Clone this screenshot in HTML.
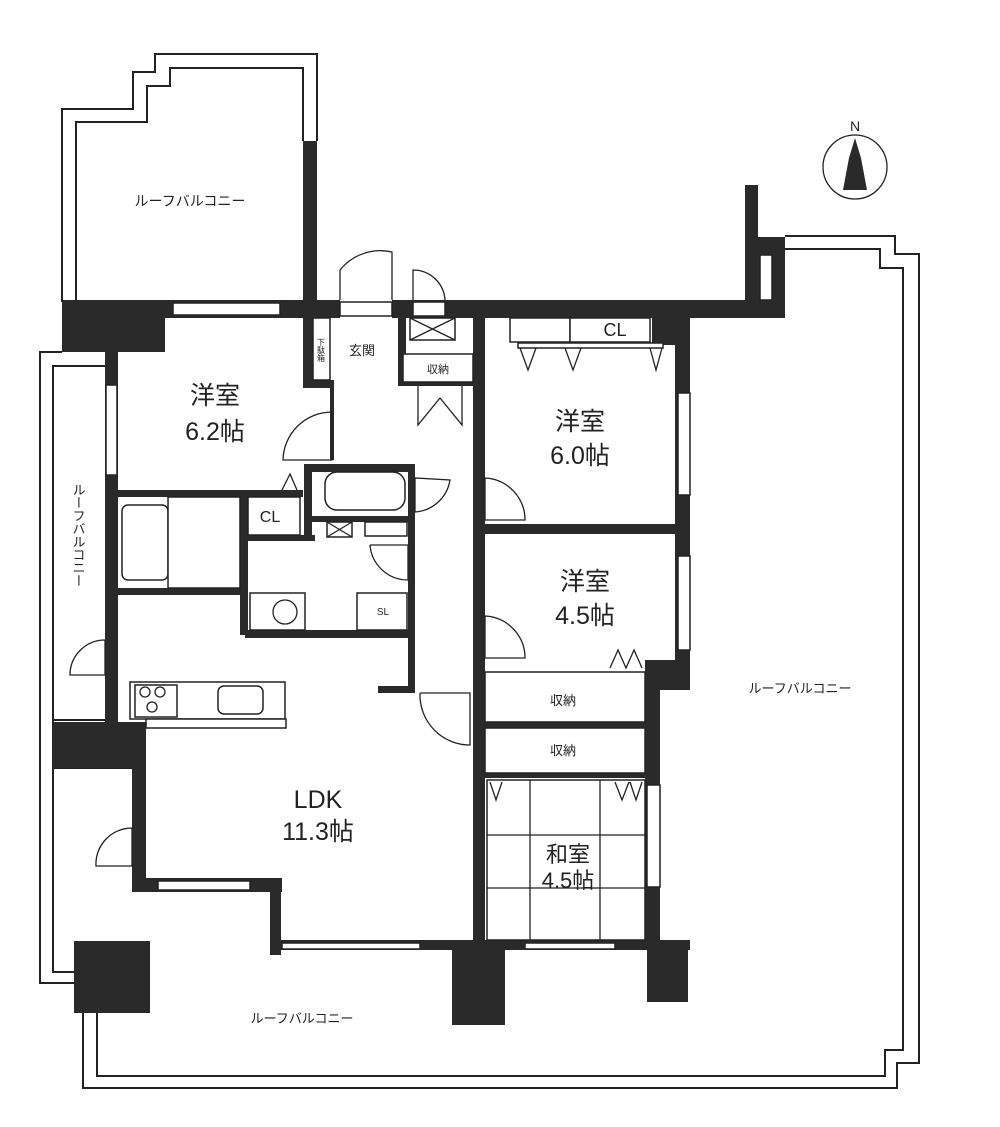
<!DOCTYPE html>
<html><head><meta charset="utf-8"><style>
html,body{margin:0;padding:0;background:#fff}
svg{display:block}
text{font-family:"Liberation Sans","Noto Sans CJK JP",sans-serif;fill:#222}
</style></head><body>
<svg width="1000" height="1127" viewBox="0 0 1000 1127" xmlns="http://www.w3.org/2000/svg">
<g fill="none" stroke="#222" stroke-width="2">
<!-- top-left balcony -->
<polyline points="62,302 62,109 133,109 133,72 155,72 155,54 317,54 317,141"/>
<polyline points="76,302 76,122 147,122 147,86 170,86 170,68 303,68 303,141"/>
<!-- left balcony -->
<polyline points="62,352 40,352 40,983 74,983"/>
<polyline points="105,366 53,366 53,972 74,972"/>
<polyline points="53,720 105,720"/>
<polyline points="53,768 132,768"/>
<!-- bottom balcony -->
<polyline points="83,1013 83,1088 897,1088 897,1063 919,1063 919,254 895,254 895,236 785,236"/>
<polyline points="97,1013 97,1076 885,1076 885,1050 903,1050 903,268 880,268 880,249 785,249"/>
</g>
<g fill="#2a2a2a">
<rect x="303" y="141" width="14" height="161"/>
<!-- top wall -->
<rect x="62" y="300" width="278" height="18"/>
<rect x="392" y="300" width="393" height="18"/>
<rect x="62" y="300" width="103" height="52"/>
<rect x="745" y="185" width="13" height="120"/>
<rect x="745" y="237" width="40" height="78"/>
<rect x="652" y="300" width="38" height="45"/>
<!-- left walls -->
<rect x="105" y="352" width="13" height="370"/>
<rect x="53" y="722" width="93" height="46"/>
<rect x="132" y="722" width="14" height="170"/>
<rect x="132" y="878" width="150" height="14"/>
<rect x="270" y="878" width="11" height="77"/>
<rect x="270" y="940" width="420" height="10"/>
<rect x="74" y="941" width="76" height="72"/>
<rect x="452" y="940" width="53" height="85"/>
<rect x="647" y="940" width="41" height="62"/>
<!-- inner -->
<rect x="303" y="318" width="10" height="70"/>
<rect x="303" y="380" width="30" height="8"/>
<rect x="330" y="380" width="4" height="80"/>
<rect x="398" y="318" width="8" height="68"/>
<rect x="398" y="380" width="80" height="6"/>
<rect x="118" y="490" width="185" height="7"/>
<rect x="240" y="490" width="8" height="145"/>
<rect x="118" y="588" width="130" height="7"/>
<rect x="304" y="464" width="111" height="8"/>
<rect x="304" y="464" width="8" height="75"/>
<rect x="304" y="516" width="111" height="6"/>
<rect x="245" y="535" width="70" height="6"/>
<rect x="245" y="630" width="170" height="8"/>
<rect x="408" y="464" width="7" height="229"/>
<rect x="378" y="686" width="37" height="7"/>
<rect x="473" y="318" width="12" height="372"/>
<rect x="473" y="688" width="12" height="262"/>
<rect x="485" y="524" width="195" height="10"/>
<rect x="675" y="318" width="15" height="350"/>
<rect x="645" y="660" width="45" height="30"/>
<rect x="645" y="668" width="15" height="275"/>
<rect x="485" y="722" width="160" height="6"/>
<rect x="485" y="773" width="160" height="5"/>
</g>
<g fill="#fff" stroke="#222" stroke-width="1.5">
<!-- windows -->
<rect x="173" y="303" width="107" height="12"/>
<rect x="106" y="385" width="11" height="90"/>
<rect x="678" y="393" width="12" height="102"/>
<rect x="678" y="556" width="12" height="94"/>
<rect x="158" y="881" width="92" height="9"/>
<rect x="282" y="943" width="138" height="6"/>
<rect x="525" y="943" width="90" height="6"/>
<rect x="647" y="785" width="13" height="102"/>
<rect x="340" y="302" width="52" height="14"/>
<rect x="413" y="302" width="32" height="14"/>
<!-- fixtures -->
<rect x="510" y="318" width="60" height="24"/>
<rect x="570" y="318" width="80" height="24"/>
<rect x="518" y="343" width="145" height="5"/>
<rect x="313" y="318" width="17" height="62"/>
<rect x="410" y="318" width="45" height="22"/>
<rect x="403" y="354" width="70" height="28"/>
<rect x="122" y="505" width="46" height="75" rx="6"/>
<rect x="168" y="497" width="72" height="91"/>
<rect x="248" y="497" width="52" height="38"/>
<rect x="250" y="593" width="55" height="37"/>
<rect x="357" y="593" width="50" height="37"/>
<rect x="325" y="472" width="80" height="38" rx="12"/>
<rect x="327" y="522" width="25" height="15"/>
<rect x="365" y="522" width="42" height="14"/>
<rect x="130" y="682" width="155" height="37"/>
<rect x="135" y="685" width="42" height="32"/>
<rect x="218" y="686" width="45" height="28" rx="6"/>
<rect x="146" y="719" width="140" height="9"/>
<rect x="485" y="672" width="160" height="50"/>
<rect x="485" y="728" width="160" height="45"/>
<rect x="487" y="780" width="158" height="160"/>
<rect x="760" y="255" width="12" height="45"/>
</g>
<g fill="none" stroke="#222" stroke-width="1.3">
<line x1="410" y1="318" x2="455" y2="340"/><line x1="455" y1="318" x2="410" y2="340"/>
<line x1="327" y1="522" x2="352" y2="537"/><line x1="352" y1="522" x2="327" y2="537"/>
<line x1="530" y1="780" x2="530" y2="940"/><line x1="600" y1="780" x2="600" y2="940"/>
<line x1="487" y1="835" x2="645" y2="835"/><line x1="487" y1="888" x2="645" y2="888"/>
<!-- doors -->
<path d="M340,300 L340,270 A52,52 0 0 1 392,252 L392,300"/>
<path d="M413,300 L413,270 A32,32 0 0 1 445,300"/>
<path d="M332,412 L332,460 L283,460 A49,49 0 0 1 332,412"/>
<path d="M485,478 L485,520 L525,520 A42,42 0 0 0 485,478"/>
<path d="M485,616 L485,658 L525,658 A42,42 0 0 0 485,616"/>
<path d="M415,478 L415,512 A38,38 0 0 0 450,480 Z"/>
<path d="M370,545 L408,545 L408,580 A38,38 0 0 1 370,545"/>
<path d="M420,693 L470,693 L470,745 A50,50 0 0 1 420,693"/>
<path d="M105,640 L105,675 L70,675 A35,35 0 0 1 105,640"/>
<path d="M132,828 L132,866 L96,866 A36,36 0 0 1 132,828"/>
<path d="M418,386 L418,425 L440,398 M462,386 L462,425 L440,398"/>
<path d="M520,348 L528,370 L536,348 M565,348 L573,370 L581,348 M650,348 L656,370 L662,348"/>
<path d="M610,668 L618,650 L626,668 L634,650 L642,668"/>
<path d="M490,782 L496,800 L502,782 M615,782 L622,800 L629,782 M630,782 L636,800 L642,782"/>
<path d="M282,490 L290,474 L297,490"/>
<circle cx="285" cy="612" r="12"/>
<circle cx="145" cy="692" r="5"/><circle cx="160" cy="692" r="5"/><circle cx="152" cy="707" r="5"/>
<!-- compass -->
<circle cx="855" cy="167" r="32"/>
</g>
<path d="M855,138 L849,158 L843,190 L867,190 L861,158 Z" fill="#2a2a2a"/>
<text x="855" y="131" font-size="14" text-anchor="middle">N</text>
<g text-anchor="middle">
<text x="190" y="206" font-size="14">ルーフバルコニー</text>
<text x="215" y="404" font-size="25">洋室</text>
<text x="215" y="440" font-size="25">6.2帖</text>
<text x="580" y="430" font-size="25">洋室</text>
<text x="580" y="464" font-size="25">6.0帖</text>
<text x="585" y="590" font-size="25">洋室</text>
<text x="585" y="624" font-size="25">4.5帖</text>
<text x="318" y="808" font-size="25">LDK</text>
<text x="318" y="840" font-size="25">11.3帖</text>
<text x="568" y="862" font-size="22">和室</text>
<text x="568" y="888" font-size="22">4.5帖</text>
<text x="563" y="705" font-size="13">収納</text>
<text x="563" y="755" font-size="13">収納</text>
<text x="615" y="336" font-size="18">CL</text>
<text x="270" y="522" font-size="16">CL</text>
<text x="362" y="355" font-size="13">玄関</text>
<text x="438" y="373" font-size="11">収納</text>
<text x="383" y="615" font-size="10">SL</text>
<text x="800" y="693" font-size="13">ルーフバルコニー</text>
<text x="302" y="1023" font-size="13">ルーフバルコニー</text>
<text x="78" y="535" font-size="13" writing-mode="tb">ルーフバルコニー</text>
<text x="321" y="350" font-size="8" writing-mode="tb">下駄箱</text>
</g>
</svg>
</body></html>
